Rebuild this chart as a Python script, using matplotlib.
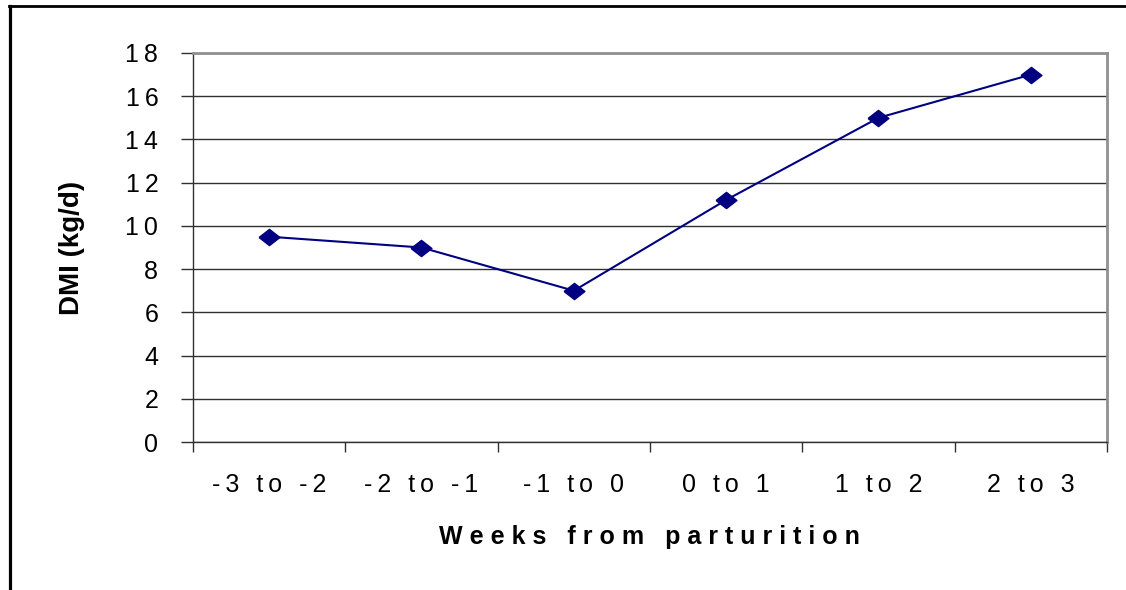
import matplotlib
matplotlib.use("Agg")
import matplotlib.pyplot as plt
from matplotlib.lines import Line2D
import numpy as np

categories = ["-3 to -2", "-2 to -1", "-1 to 0", "0 to 1", "1 to 2", "2 to 3"]
dmi = [9.5, 9.0, 7.0, 11.2, 15.0, 17.0]
yticks = [0, 2, 4, 6, 8, 10, 12, 14, 16, 18]
xlabel = "Weeks from parturition"
ylabel = "DMI (kg/d)"


def spaced(s, sep):
    return sep.join(s)


W, H = 1126, 590
fig = plt.figure(figsize=(W / 100, H / 100), dpi=100)
plt.rcParams['font.family'] = ['Liberation Sans', 'DejaVu Sans']

left, right, top, bottom = 193, 1107, 53, 442
ax = fig.add_axes([left / W, 1 - bottom / H, (right - left) / W, (bottom - top) / H])

x = np.arange(len(categories))
diamond = [(-1, 0), (0, 0.78), (1, 0), (0, -0.78), (-1, 0)]
ax.plot(x, dmi, color='#000080', lw=1.5, marker=diamond, markersize=15,
        markerfacecolor='#000080', markeredgecolor='#000080', zorder=5, clip_on=False)

ax.set_xlim(-0.5, len(categories) - 0.5)
ax.set_ylim(0, 18)
ax.set_yticks(yticks)
ax.set_yticklabels([spaced(str(v), '\u2009') for v in yticks], fontsize=18)
ax.yaxis.grid(True, color='#303030', lw=1.0)
ax.set_axisbelow(True)

ax.set_xticks(np.arange(len(categories) + 1) - 0.5)
ax.set_xticklabels([])
ax.set_xticks(x, minor=True)
ax.set_xticklabels([spaced(c, '\u2009') for c in categories], minor=True, fontsize=18)
ax.tick_params(axis='x', which='major', length=7, width=1, color='#303030', direction='out')
ax.tick_params(axis='x', which='minor', length=0, pad=22)
ax.tick_params(axis='y', length=9, width=1, color='#303030', pad=16)

for s in ['top', 'right']:
    ax.spines[s].set_color('#909090')
    ax.spines[s].set_linewidth(2)
ax.spines['left'].set_color('#303030')
ax.spines['bottom'].set_color('#303030')
ax.spines['left'].set_linewidth(1)
ax.spines['bottom'].set_linewidth(1)

fig.text(72 / W, 1 - 248 / H, ylabel, rotation=90, ha='center', va='center',
         fontsize=20, fontweight='bold')
fig.text(649 / W, 1 - 544 / H, spaced(xlabel, ' '), ha='center', va='baseline',
         fontsize=18, fontweight='bold')

fig.add_artist(Line2D([9.5 / W, 9.5 / W], [0, 1 - 5.5 / H], transform=fig.transFigure,
                      color='black', lw=2.3))
fig.add_artist(Line2D([8.5 / W, 1], [1 - 5.5 / H, 1 - 5.5 / H], transform=fig.transFigure,
                      color='black', lw=2.0))

fig.savefig("out.png", dpi=100)
